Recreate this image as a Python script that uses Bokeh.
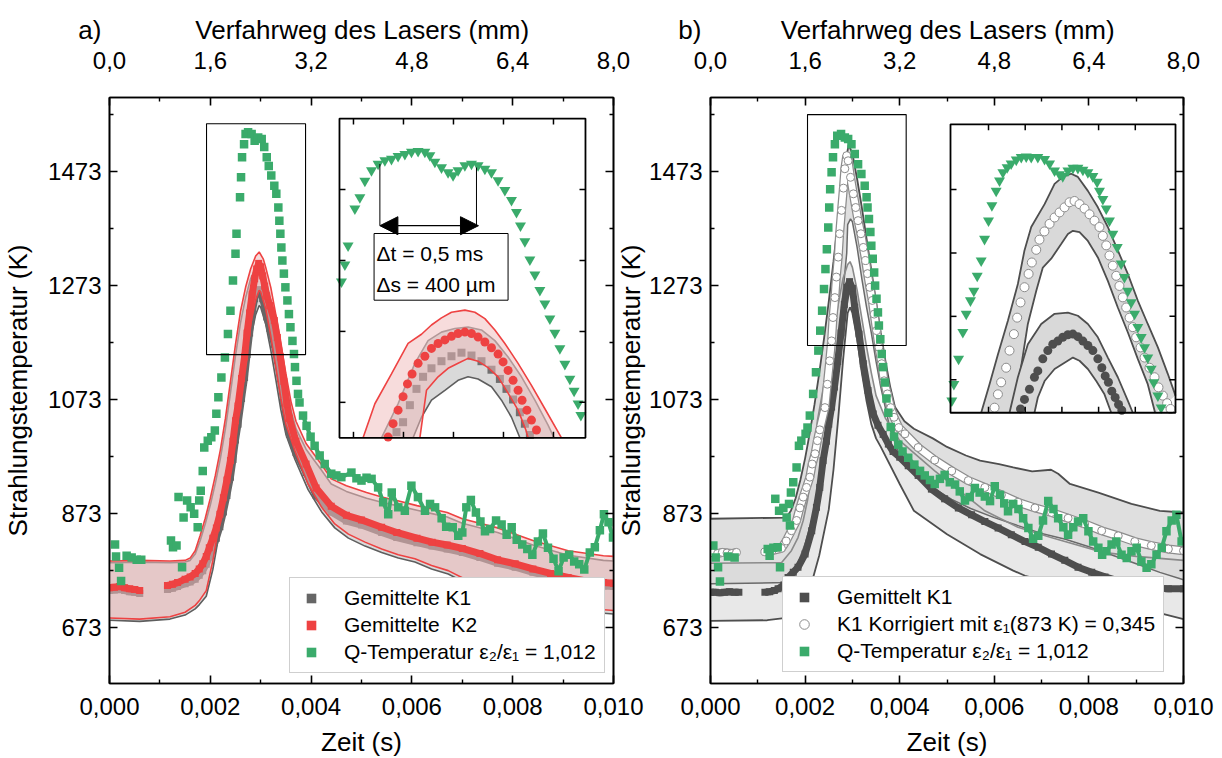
import numpy as np
from bokeh.plotting import figure
from bokeh.layouts import row
from bokeh.models import (Range1d, LinearAxis, FixedTicker, CustomJSTickFormatter,
                          Legend, LegendItem, Label, Arrow, NormalHead)
from bokeh.embed import file_html
from bokeh.resources import INLINE

nan = float("nan")

# ---------------- axes / ticks ----------------
X_RANGE = (0.0, 0.010)
Y_RANGE = (575.0, 1603.0)
MM_RANGE = (0.0, 8.0)
TIME_TICKS = [0.0, 0.002, 0.004, 0.006, 0.008, 0.010]
TIME_MINOR = [0.001, 0.003, 0.005, 0.007, 0.009]
MM_TICKS = [0.0, 1.6, 3.2, 4.8, 6.4, 8.0]
MM_MINOR = [0.8, 2.4, 4.0, 5.6, 7.2]
TEMP_TICKS = [673, 873, 1073, 1273, 1473]
TEMP_MINOR = [773, 973, 1173, 1373, 1573]

# ---------------- panel a: main data (time s, temperature K) ----------------
A_K2 = [(0.0, 743), (0.0001, 744), (0.0002, 745), (0.0003, 743), (0.0004, 741), (0.0005, 740), (0.0006, 738), (nan, nan),
        (0.00115, 747), (0.00125, 749), (0.00135, 752), (0.0015, 758), (0.0016, 762), (0.0017, 768), (0.00178, 776),
        (0.00185, 785), (0.00192, 798), (0.00198, 813), (0.00205, 830), (0.00212, 848), (0.00219, 872), (0.00226, 901),
        (0.00233, 932), (0.0024, 966), (0.00245, 1000), (0.0025, 1036), (0.00255, 1062), (0.00262, 1110), (0.00268, 1148),
        (0.00273, 1190), (0.00278, 1225), (0.00283, 1258), (0.00288, 1285), (0.00292, 1302), (0.00296, 1312), (0.0030, 1306),
        (0.00304, 1290), (0.00308, 1272), (0.00312, 1255), (0.00318, 1238), (0.00327, 1212), (0.00333, 1182), (0.00339, 1148),
        (0.00346, 1105), (0.00352, 1066), (0.00357, 1040), (0.0037, 1000), (0.0039, 960), (0.0041, 918), (0.0044, 886),
        (0.0047, 870), (0.0050, 862), (0.0054, 849), (0.0057, 840), (0.0061, 830), (0.0064, 823), (0.0067, 818), (0.0070, 812),
        (0.00735, 803), (0.0077, 792), (0.00805, 785), (0.0084, 776), (0.00875, 768), (0.0091, 761), (0.00945, 755),
        (0.0098, 752), (0.0100, 751)]
A_K1 = [(0.0, 738), (0.0001, 739), (0.0002, 740), (0.0003, 738), (0.0004, 736), (0.0005, 735), (0.0006, 733), (nan, nan),
        (0.00115, 740), (0.00125, 742), (0.00135, 745), (0.0015, 750), (0.0016, 753), (0.0017, 758), (0.00178, 765),
        (0.00185, 773), (0.00192, 784), (0.00198, 797), (0.00205, 812), (0.00212, 830), (0.00219, 850), (0.00226, 876),
        (0.00233, 905), (0.0024, 937), (0.00245, 968), (0.0025, 1002), (0.00255, 1030), (0.00262, 1075), (0.00268, 1112),
        (0.00273, 1152), (0.00278, 1190), (0.00283, 1225), (0.00288, 1250), (0.00292, 1262), (0.00296, 1266), (0.0030, 1262),
        (0.00304, 1250), (0.00308, 1235), (0.00312, 1218), (0.00318, 1198), (0.00327, 1170), (0.00333, 1142), (0.00339, 1110),
        (0.00346, 1070), (0.00352, 1035), (0.00357, 1012), (0.0037, 980), (0.0039, 945), (0.0041, 905), (0.0044, 876),
        (0.0047, 860), (0.0050, 853), (0.0054, 840), (0.0057, 831), (0.0061, 822), (0.0064, 816), (0.0067, 811), (0.0070, 805),
        (0.00735, 796), (0.0077, 786), (0.00805, 779), (0.0084, 770), (0.00875, 762), (0.0091, 755), (0.00945, 749),
        (0.0098, 746), (0.0100, 745)]
A_K2_UP = [(0.0, 790), (0.0006, 791), (0.0012, 790), (0.0015, 791), (0.0016, 795), (0.0017, 808), (0.0018, 835), (0.0019, 865),
           (0.0020, 900), (0.0021, 940), (0.0022, 985), (0.0023, 1040), (0.0024, 1105), (0.0025, 1170), (0.0026, 1228),
           (0.0027, 1270), (0.0028, 1302), (0.0029, 1325), (0.00297, 1332), (0.00305, 1320), (0.0031, 1305), (0.0032, 1270),
           (0.0033, 1222), (0.0034, 1170), (0.0035, 1118), (0.0036, 1070), (0.0037, 1035), (0.0039, 996), (0.0042, 960),
           (0.0044, 934), (0.0047, 922), (0.0051, 910), (0.0054, 902), (0.0057, 896), (0.0061, 887), (0.0064, 881),
           (0.0067, 875), (0.0070, 864), (0.0077, 848), (0.0084, 826), (0.0091, 808), (0.0098, 799), (0.0100, 798)]
A_K1_UP = [(0.0, 787), (0.0006, 788), (0.0012, 787), (0.0015, 788), (0.0016, 791), (0.0017, 802), (0.0018, 826), (0.0019, 855),
           (0.0020, 888), (0.0021, 926), (0.0022, 970), (0.0023, 1022), (0.0024, 1085), (0.0025, 1150), (0.0026, 1208),
           (0.0027, 1252), (0.0028, 1285), (0.0029, 1305), (0.00297, 1310), (0.00305, 1298), (0.0031, 1282), (0.0032, 1248),
           (0.0033, 1202), (0.0034, 1150), (0.0035, 1100), (0.0036, 1055), (0.0037, 1022), (0.0039, 986), (0.0042, 950),
           (0.0044, 925), (0.0047, 912), (0.0051, 900), (0.0054, 893), (0.0057, 887), (0.0061, 879), (0.0064, 873),
           (0.0067, 867), (0.0070, 856), (0.0077, 840), (0.0084, 818), (0.0091, 800), (0.0098, 791), (0.0100, 790)]
A_K2_LO = [(0.0, 690), (0.0006, 688), (0.0012, 692), (0.0015, 700), (0.0017, 712), (0.00178, 720), (0.00192, 738),
           (0.00205, 790), (0.00219, 861), (0.00233, 925), (0.00247, 1000), (0.0026, 1085), (0.0027, 1145), (0.0028, 1205),
           (0.0029, 1248), (0.00297, 1265), (0.0030, 1262), (0.0031, 1232), (0.0032, 1185), (0.0033, 1130), (0.0034, 1075),
           (0.0035, 1030), (0.00368, 983), (0.00394, 925), (0.00421, 884), (0.00447, 855), (0.00474, 837), (0.00507, 823),
           (0.0054, 811), (0.00573, 801), (0.00606, 794), (0.00639, 782), (0.00672, 773), (0.00701, 760), (0.00735, 745),
           (0.0080, 722), (0.0090, 710), (0.0100, 703)]
A_K1_LO = [(0.0, 686), (0.0006, 684), (0.0012, 688), (0.0015, 695), (0.0017, 706), (0.00178, 713), (0.00192, 728),
           (0.00205, 775), (0.00219, 845), (0.00233, 908), (0.00247, 980), (0.0026, 1060), (0.0027, 1120), (0.0028, 1180),
           (0.0029, 1222), (0.00297, 1238), (0.0030, 1235), (0.0031, 1205), (0.0032, 1160), (0.0033, 1108), (0.0034, 1055),
           (0.0035, 1012), (0.00368, 968), (0.00394, 915), (0.00421, 876), (0.00447, 848), (0.00474, 830), (0.00507, 816),
           (0.0054, 805), (0.00573, 795), (0.00606, 788), (0.00639, 776), (0.00672, 767), (0.00701, 754), (0.00735, 739),
           (0.0080, 716), (0.0090, 704), (0.0100, 697)]
A_Q = [(0.00011, 819), (0.00013, 798), (0.00019, 778), (0.00023, 755), (0.00034, 799), (0.00044, 796), (0.00054, 792),
       (0.00063, 792), (0.00122, 826), (0.00126, 814), (0.00133, 817), (0.00137, 902), (0.00144, 779), (0.00147, 866),
       (0.00154, 896), (0.00161, 884), (0.00168, 873), (0.00175, 849), (0.00178, 896), (0.00181, 913), (0.00185, 948),
       (0.00188, 989), (0.00195, 1001), (0.00202, 1007), (0.00209, 1019), (0.00212, 1048),
       (0.00216, 1077), (0.00222, 1112), (0.00229, 1147), (0.00235, 1188), (0.0024, 1229), (0.00245, 1282), (0.0025, 1329),
       (0.00252, 1364), (0.00259, 1428), (0.00261, 1463), (0.00263, 1498), (0.00267, 1521), (0.0027, 1539), (0.00275, 1542),
       (0.00282, 1539), (0.00288, 1527), (0.00295, 1533), (0.00302, 1530), (0.00307, 1516), (0.00312, 1498), (0.00316, 1483),
       (0.00321, 1466), (0.00327, 1448), (0.00331, 1434), (0.00335, 1410), (0.00337, 1387), (0.00339, 1364), (0.00341, 1340),
       (0.00343, 1317), (0.00346, 1294), (0.00349, 1270), (0.00353, 1247), (0.00356, 1223), (0.00359, 1200), (0.00363, 1176),
       (0.00366, 1153), (0.00368, 1130), (0.00371, 1106), (0.00374, 1083), (0.00377, 1068), (0.00384, 1045), (0.00391, 1027),
       (0.00399, 1008), (0.00407, 992), (0.00417, 975), (0.00427, 960), (0.0044, 943), (0.0045, 940), (0.0046, 937),
       (0.0048, 945), (0.0049, 935), (0.0050, 931), (0.0051, 936), (0.0052, 934), (0.00533, 919), (0.00543, 893),
       (0.00553, 872), (0.0056, 910), (0.00573, 884), (0.00586, 878), (0.00599, 922), (0.00612, 902), (0.00626, 878),
       (0.00636, 890), (0.00646, 884), (0.00659, 865), (0.00668, 850), (0.00681, 849), (0.00692, 834), (0.0070, 840),
       (0.00708, 884), (0.00717, 897), (0.00727, 875), (0.00736, 859), (0.00745, 842), (0.00755, 846), (0.00767, 861),
       (0.00778, 854), (0.00788, 836), (0.00798, 849), (0.00808, 827), (0.00819, 819), (0.00829, 811), (0.00839, 801),
       (0.0085, 824), (0.0086, 838), (0.0087, 813), (0.00881, 794), (0.00891, 772), (0.00901, 796), (0.00912, 801),
       (0.00922, 789), (0.00932, 784), (0.00942, 775), (0.00953, 805), (0.00963, 814), (0.00973, 844), (0.00981, 872),
       (0.0099, 858), (0.00999, 831)]

# ---------------- panel a: inset data ----------------
IA_Q = [(0.00234, 1370), (0.002357, 1394), (0.002373, 1421), (0.002407, 1473), (0.002432, 1489), (0.002457, 1512),
        (0.00249, 1527), (0.002523, 1536), (0.002557, 1541), (0.00259, 1543), (0.002623, 1547), (0.002657, 1550),
        (0.00269, 1553), (0.002723, 1554), (0.002757, 1553), (0.002782, 1548), (0.002807, 1539), (0.00284, 1531),
        (0.002873, 1524), (0.002898, 1520), (0.002923, 1527), (0.002957, 1534), (0.00299, 1536), (0.003023, 1534),
        (0.003057, 1529), (0.00309, 1524), (0.003123, 1513), (0.003157, 1499), (0.00319, 1485), (0.003215, 1468),
        (0.003235, 1449), (0.003257, 1427), (0.003282, 1401), (0.003307, 1380), (0.003332, 1358), (0.003357, 1339),
        (0.003382, 1318), (0.003407, 1298), (0.003432, 1276), (0.003457, 1254), (0.003482, 1233), (0.003503, 1216),
        (0.003523, 1198), (0.003537, 1182)]
IA_K2 = [(0.002573, 1151), (0.002598, 1170), (0.002623, 1189), (0.002648, 1208), (0.00267, 1226), (0.002693, 1240),
         (0.002723, 1255), (0.002757, 1265), (0.00279, 1276), (0.002823, 1283), (0.002857, 1288), (0.00289, 1293),
         (0.002923, 1297), (0.002957, 1299), (0.00299, 1297), (0.003023, 1292), (0.003057, 1285), (0.00309, 1277),
         (0.003123, 1268), (0.003148, 1257), (0.003173, 1245), (0.003198, 1231), (0.003223, 1217), (0.003243, 1203),
         (0.003267, 1189), (0.00329, 1175), (0.003315, 1161)]
IA_K1 = [(0.002615, 1158), (0.002648, 1172), (0.002682, 1196), (0.002715, 1219), (0.002748, 1236), (0.00279, 1248),
         (0.00284, 1258), (0.00289, 1265), (0.00294, 1270), (0.00299, 1266), (0.00304, 1258), (0.00309, 1246),
         (0.003132, 1233), (0.003165, 1219), (0.003198, 1204), (0.003232, 1186), (0.003257, 1170), (0.003282, 1154)]
IA_K2_UP = [(0.002448, 1150), (0.002507, 1198), (0.00259, 1240), (0.002673, 1283), (0.00274, 1296), (0.00279, 1309),
            (0.00284, 1319), (0.00289, 1327), (0.002957, 1330), (0.003007, 1327), (0.003057, 1318), (0.003107, 1302),
            (0.003157, 1283), (0.003223, 1255), (0.00329, 1224), (0.003357, 1191), (0.00344, 1150)]
IA_K2_LO = [(0.002732, 1150), (0.002765, 1217), (0.002823, 1236), (0.002873, 1248), (0.002923, 1255), (0.002973, 1262),
            (0.003023, 1258), (0.003073, 1249), (0.003123, 1236), (0.003173, 1213), (0.003223, 1189), (0.003262, 1161),
            (0.003273, 1150)]
IA_K1_UP = [(0.00254, 1150), (0.002623, 1198), (0.002707, 1255), (0.002773, 1287), (0.00284, 1299), (0.002907, 1304),
            (0.002973, 1306), (0.00304, 1302), (0.003107, 1287), (0.003173, 1264), (0.00324, 1236), (0.003307, 1203),
            (0.003373, 1168), (0.003403, 1150)]
IA_K1_LO = [(0.002698, 1150), (0.00274, 1179), (0.00279, 1203), (0.002857, 1217), (0.002923, 1231), (0.002973, 1236),
            (0.003023, 1233), (0.00309, 1222), (0.00314, 1203), (0.00319, 1179), (0.003232, 1150)]

# ---------------- panel b: main data ----------------
B_K1 = [(0.0, 735), (0.0001, 735), (0.0002, 734), (0.0003, 735), (0.0004, 736), (0.0005, 735), (0.0006, 735), (nan, nan),
        (0.00115, 735), (0.00125, 736), (0.00135, 738), (0.00143, 741), (0.00155, 748), (0.00164, 761), (0.00175, 770),
        (0.00185, 779), (0.0020, 802), (0.00214, 843), (0.00224, 884), (0.00231, 919), (0.00238, 966), (0.00245, 1000),
        (0.0025, 1030), (0.00256, 1060), (0.00262, 1095), (0.00269, 1140), (0.00276, 1190), (0.00283, 1240), (0.00289, 1270),
        (0.00294, 1280), (0.0030, 1268), (0.00305, 1235), (0.00314, 1188), (0.00323, 1136), (0.00333, 1089), (0.00344, 1048),
        (0.00354, 1028), (0.00365, 1012), (0.00376, 995), (0.00386, 982), (0.0040, 972), (0.00418, 957), (0.00439, 940),
        (0.00467, 916), (0.00495, 899), (0.00524, 883), (0.00552, 871), (0.0058, 859), (0.00608, 848), (0.00636, 836),
        (0.00665, 824), (0.00693, 814), (0.00721, 802), (0.00749, 791), (0.00777, 779), (0.00806, 770), (0.00834, 762),
        (0.00862, 755), (0.00897, 750), (0.00932, 744), (0.00968, 741), (0.0100, 741)]
B_CORR = [(0.00005, 804), (0.00015, 803), (0.00025, 805), (0.00035, 804), (0.00045, 803), (0.00055, 805), (nan, nan),
          (0.00115, 806), (0.0013, 808), (0.0015, 812), (0.0016, 825), (0.00171, 843), (0.00182, 861), (0.00189, 883),
          (0.00196, 902), (0.00203, 919), (0.0021, 937), (0.00215, 960), (0.00221, 978), (0.00226, 1001), (0.00231, 1020),
          (0.00242, 1059), (0.00247, 1100), (0.00252, 1141), (0.00256, 1176), (0.00259, 1217), (0.00263, 1252),
          (0.00266, 1288), (0.0027, 1323), (0.00273, 1364), (0.00277, 1405), (0.00281, 1444), (0.00284, 1478),
          (0.00288, 1501), (0.00291, 1492), (0.00296, 1463), (0.00302, 1434), (0.00307, 1410), (0.00312, 1387),
          (0.00318, 1364), (0.00323, 1340), (0.00328, 1317), (0.00332, 1294), (0.00337, 1270), (0.00342, 1247),
          (0.00346, 1223), (0.00351, 1194), (0.00356, 1165), (0.00362, 1136), (0.00367, 1106), (0.00374, 1083),
          (0.00381, 1059), (0.00388, 1042), (0.00398, 1024), (0.00411, 1013), (0.00439, 989), (0.00474, 967),
          (0.0051, 948), (0.00545, 931), (0.0058, 919), (0.00615, 906), (0.0065, 893), (0.00686, 883), (0.00721, 875),
          (0.00756, 865), (0.00791, 855), (0.00827, 843), (0.00862, 834), (0.00897, 824), (0.00932, 817), (0.00968, 811),
          (0.0100, 808)]
B_CORR_UP = [(0.0, 864), (0.0016, 866), (0.0017, 878), (0.0018, 900), (0.0019, 932), (0.0020, 970), (0.0021, 1015),
             (0.0022, 1065), (0.0023, 1120), (0.0024, 1180), (0.0025, 1245), (0.0026, 1315), (0.0027, 1390), (0.0028, 1465),
             (0.00292, 1520), (0.0030, 1505), (0.0031, 1460), (0.0032, 1410), (0.0033, 1355), (0.0034, 1300), (0.0035, 1245),
             (0.0036, 1190), (0.0037, 1140), (0.0038, 1095), (0.0039, 1060), (0.0041, 1035), (0.0043, 1022), (0.0047, 1005),
             (0.0050, 990), (0.0054, 975), (0.0057, 966), (0.0061, 960), (0.0064, 954), (0.0068, 947), (0.0072, 950),
             (0.00735, 943), (0.0076, 925), (0.0082, 910), (0.0089, 890), (0.0095, 878), (0.0100, 875)]
B_CORR_LO = [(0.0, 750), (0.0016, 752), (0.0018, 775), (0.0020, 820), (0.0022, 880), (0.0024, 960), (0.0025, 1020),
             (0.0026, 1090), (0.0027, 1170), (0.0028, 1260), (0.00288, 1330), (0.0029, 1380), (0.00296, 1390), (0.0030, 1385),
             (0.0031, 1340), (0.0032, 1285), (0.0033, 1235), (0.0034, 1190), (0.0035, 1140), (0.0036, 1095), (0.0038, 1020),
             (0.0040, 975), (0.0043, 945), (0.0047, 918), (0.0051, 898), (0.0055, 882), (0.0060, 866), (0.0065, 852),
             (0.0070, 838), (0.0075, 828), (0.0080, 815), (0.0085, 800), (0.0090, 785), (0.0095, 770), (0.0100, 757)]
B_K1_UP = [(0.0, 786), (0.0015, 787), (0.00171, 808), (0.00185, 831), (0.00196, 861), (0.00205, 896), (0.00214, 943),
           (0.00221, 989), (0.00226, 1036), (0.0024, 1100), (0.0025, 1140), (0.0026, 1190), (0.0027, 1240), (0.0028, 1285),
           (0.0029, 1310), (0.00295, 1315), (0.0030, 1305), (0.0031, 1265), (0.0032, 1215), (0.0033, 1165), (0.0034, 1120),
           (0.0035, 1080), (0.0037, 1040), (0.0040, 1001), (0.00474, 948), (0.0058, 878), (0.0065, 849), (0.0072, 831),
           (0.0083, 805), (0.0090, 798), (0.0100, 791)]
B_K1_LO = [(0.0, 685), (0.0012, 686), (0.0016, 690), (0.0019, 705), (0.0021, 740), (0.0023, 800), (0.0025, 880),
           (0.0026, 950), (0.0027, 1040), (0.0028, 1140), (0.0029, 1225), (0.00295, 1235), (0.0030, 1225), (0.0031, 1180),
           (0.0032, 1120), (0.0033, 1070), (0.0034, 1030), (0.0035, 1005), (0.0036, 990), (0.0040, 925), (0.0043, 878),
           (0.0050, 837), (0.0057, 802), (0.0064, 773), (0.00665, 764), (0.0074, 748), (0.0083, 728), (0.0090, 709),
           (0.0100, 688)]
B_Q = [(0.00006, 817), (0.00011, 796), (0.00016, 779), (0.0002, 754), (0.00037, 798), (0.00051, 796),
       (0.00121, 811), (0.00125, 799), (0.00133, 813), (0.00137, 899), (0.00142, 814), (0.00145, 878), (0.00147, 779),
       (0.00154, 883), (0.00161, 866), (0.00166, 890), (0.00168, 852), (0.0017, 910), (0.00175, 928), (0.00182, 954),
       (0.00187, 992), (0.00192, 1001), (0.00201, 1013), (0.00205, 1024), (0.0021, 1045), (0.00217, 1083), (0.00223, 1121),
       (0.00228, 1159), (0.00232, 1194), (0.00236, 1229), (0.0024, 1267), (0.00243, 1302), (0.00246, 1337), (0.00249, 1375),
       (0.00251, 1410), (0.00253, 1442), (0.00256, 1472), (0.00259, 1498), (0.00263, 1521), (0.00268, 1536), (0.00276, 1539),
       (0.00284, 1533), (0.00291, 1530), (0.00298, 1521), (0.00305, 1504), (0.00312, 1486), (0.00319, 1469), (0.00326, 1448),
       (0.0033, 1428), (0.00332, 1410), (0.00335, 1390), (0.00338, 1367), (0.0034, 1343), (0.00343, 1320), (0.00346, 1296),
       (0.00348, 1273), (0.00351, 1250), (0.00354, 1226), (0.00356, 1203), (0.00359, 1179), (0.00362, 1153), (0.00365, 1130),
       (0.00369, 1103), (0.00372, 1075), (0.00376, 1050), (0.00381, 1025), (0.00388, 1008), (0.00397, 994), (0.00406, 982),
       (0.00418, 971), (0.00431, 959), (0.00443, 948), (0.00453, 940), (0.00464, 932), (0.00474, 925), (0.00485, 934),
       (0.00495, 941), (0.00506, 928), (0.00517, 924), (0.00527, 912), (0.00538, 896), (0.00548, 902), (0.00559, 918),
       (0.00569, 910), (0.0058, 903), (0.00591, 895), (0.00601, 921), (0.00612, 906), (0.00621, 891), (0.00629, 877),
       (0.0064, 890), (0.00651, 881), (0.00661, 865), (0.00672, 848), (0.00682, 829), (0.00693, 834), (0.00703, 861),
       (0.00714, 895), (0.00725, 881), (0.00735, 865), (0.00746, 849), (0.00756, 836), (0.00767, 849), (0.00777, 859),
       (0.00788, 865), (0.00799, 842), (0.00809, 824), (0.0082, 813), (0.00828, 801), (0.00837, 807), (0.00848, 819),
       (0.00858, 824), (0.00869, 801), (0.0088, 795), (0.0089, 807), (0.00901, 813), (0.00911, 789), (0.00922, 778),
       (0.00932, 784), (0.00943, 801), (0.00954, 813), (0.00964, 842), (0.00975, 861), (0.00985, 871), (0.00996, 824)]

# ---------------- panel b: inset data ----------------
IB_Q = [(0.00215, 1167), (0.002164, 1193), (0.002196, 1233), (0.002225, 1275), (0.002248, 1304), (0.002277, 1325),
        (0.0023, 1340), (0.002323, 1364), (0.00235, 1388), (0.002373, 1422), (0.0024, 1451), (0.002423, 1475),
        (0.002452, 1498), (0.002475, 1514), (0.002498, 1527), (0.002527, 1535), (0.002554, 1541), (0.002589, 1547),
        (0.002623, 1551), (0.002657, 1552), (0.002691, 1551), (0.002736, 1551), (0.002782, 1548), (0.002816, 1541),
        (0.00285, 1530), (0.002884, 1524), (0.002906, 1521), (0.002941, 1530), (0.002975, 1534), (0.003009, 1534),
        (0.003043, 1531), (0.003077, 1527), (0.003111, 1521), (0.00314, 1512), (0.003156, 1498), (0.003179, 1485),
        (0.003202, 1470), (0.003224, 1451), (0.003247, 1430), (0.003277, 1409), (0.003304, 1383), (0.003326, 1362),
        (0.003349, 1340), (0.003372, 1322), (0.003395, 1304), (0.003417, 1283), (0.00344, 1267), (0.003463, 1251),
        (0.003485, 1235), (0.003508, 1217), (0.003526, 1196), (0.003554, 1175), (0.003576, 1156)]
IB_CORR = [(0.002441, 1156), (0.002464, 1177), (0.002486, 1196), (0.00252, 1219), (0.002543, 1246), (0.002573, 1272),
           (0.002595, 1298), (0.002618, 1322), (0.002645, 1346), (0.002673, 1367), (0.002695, 1385), (0.002725, 1405),
           (0.002747, 1421), (0.002781, 1434), (0.002816, 1446), (0.00285, 1456), (0.002884, 1464), (0.002918, 1472),
           (0.002952, 1480), (0.002986, 1482), (0.00302, 1477), (0.003054, 1470), (0.003088, 1461), (0.003122, 1451),
           (0.003156, 1441), (0.003179, 1427), (0.003202, 1412), (0.003224, 1396), (0.003247, 1380), (0.00327, 1364),
           (0.003292, 1348), (0.003315, 1330), (0.003338, 1314), (0.003361, 1298), (0.003383, 1283), (0.003406, 1267),
           (0.003436, 1251), (0.003463, 1235), (0.003497, 1219), (0.003531, 1204), (0.003558, 1188), (0.003588, 1175),
           (0.003617, 1163), (0.00364, 1154)]
IB_CORR_UP = [(0.00235, 1148), (0.002407, 1193), (0.002464, 1240), (0.002532, 1293), (0.0026, 1351), (0.002645, 1404),
              (0.002691, 1441), (0.002782, 1477), (0.00285, 1509), (0.002906, 1520), (0.002963, 1525), (0.003009, 1520),
              (0.003077, 1498), (0.003145, 1472), (0.003213, 1441), (0.003281, 1404), (0.003349, 1367), (0.003417, 1325),
              (0.003485, 1288), (0.003554, 1251), (0.003622, 1209), (0.003674, 1175)]
IB_CORR_LO = [(0.002566, 1148), (0.002611, 1204), (0.002668, 1288), (0.002725, 1340), (0.00277, 1377), (0.002827, 1391),
              (0.002895, 1414), (0.002941, 1430), (0.002975, 1435), (0.00302, 1433), (0.003077, 1419), (0.003145, 1393),
              (0.003213, 1356), (0.003281, 1314), (0.003349, 1275), (0.003417, 1233), (0.003485, 1193), (0.003535, 1148)]
IB_K1 = [(0.002618, 1154), (0.002645, 1169), (0.002679, 1185), (0.002713, 1204), (0.002736, 1214), (0.00277, 1233),
         (0.002804, 1246), (0.002838, 1256), (0.002872, 1261), (0.002906, 1267), (0.002941, 1271), (0.002975, 1272),
         (0.003009, 1268), (0.003043, 1261), (0.003077, 1254), (0.003111, 1246), (0.003145, 1233), (0.003172, 1219),
         (0.003195, 1206), (0.003217, 1196), (0.00324, 1182), (0.003263, 1172), (0.003286, 1161), (0.003308, 1152)]
IB_K1_UP = [(0.002543, 1148), (0.0026, 1204), (0.002668, 1256), (0.002759, 1288), (0.00285, 1304), (0.002941, 1306),
            (0.003009, 1301), (0.003077, 1288), (0.003145, 1267), (0.003213, 1235), (0.003281, 1204), (0.003349, 1167),
            (0.003383, 1148)]
IB_K1_LO = [(0.002713, 1148), (0.002736, 1172), (0.002782, 1198), (0.00285, 1217), (0.002918, 1227), (0.002975, 1235),
            (0.00302, 1230), (0.003077, 1217), (0.003134, 1198), (0.00319, 1177), (0.003236, 1148)]

# ---------------- inset windows / placement ----------------
# box = inset frame in main-axis coordinates; win = data window shown inside it
INSET_A_BOX = (0.004563, 0.009444, 1006, 1566)
INSET_A_WIN = (0.00233, 0.00356, 1150, 1600)
INSET_B_BOX = (0.005074, 0.009831, 1050, 1556)
INSET_B_WIN = (0.002141, 0.003674, 1148, 1603)
INSET_X_TICKS = [0.0024, 0.00265, 0.0029, 0.00315, 0.0034]
INSET_Y_TICKS = [1200, 1300, 1400, 1500]
ZOOM_A = (0.001925, 0.00389, 1152, 1557)
ZOOM_B = (0.002051, 0.004137, 1168, 1573)

# ---------------- style ----------------
FONT = "Liberation Sans"
TICK_FS = "24px"
TITLE_FS = "26px"
LEG_FS = "21px"
GREEN = "#3aab6b"
RED = "#ee4242"
PINK = "#efb9b9"
GFILL = "#d9d9d9"
DARK = "#4e4e4e"
MID = "#5e5e5e"
FRAME_H = 586
NB = "\u00a0"
TOP_TITLE = "Verfahrweg des Lasers (mm)"


def split(pairs):
    xs = [a for a, b in pairs]
    ys = [b for a, b in pairs]
    return xs, ys


def style_axis(ax, ticks, minor, code, title=None, label_standoff=8, title_standoff=6):
    ax.ticker = FixedTicker(ticks=ticks, minor_ticks=minor)
    ax.formatter = CustomJSTickFormatter(code=code)
    ax.major_tick_in = 8
    ax.major_tick_out = 0
    ax.minor_tick_in = 4
    ax.minor_tick_out = 0
    ax.axis_line_width = 1.6
    ax.major_tick_line_width = 1.6
    ax.minor_tick_line_width = 1.4
    ax.axis_line_color = "black"
    ax.major_tick_line_color = "black"
    ax.minor_tick_line_color = "black"
    ax.major_label_text_font = FONT
    ax.major_label_text_font_size = TICK_FS
    ax.major_label_text_color = "black"
    ax.major_label_standoff = label_standoff
    if title:
        ax.axis_label = title
        ax.axis_label_text_font = FONT
        ax.axis_label_text_font_size = TITLE_FS
        ax.axis_label_text_font_style = "normal"
        ax.axis_label_text_color = "black"
        ax.axis_label_standoff = title_standoff


def inset_range(box, win):
    bx0, bx1, by0, by1 = box
    wx0, wx1, wy0, wy1 = win
    kx = (wx1 - wx0) / (bx1 - bx0)
    ky = (wy1 - wy0) / (by1 - by0)
    xr = Range1d(wx0 + (X_RANGE[0] - bx0) * kx, wx0 + (X_RANGE[1] - bx0) * kx)
    yr = Range1d(wy0 + (Y_RANGE[0] - by0) * ky, wy0 + (Y_RANGE[1] - by0) * ky)
    return xr, yr


def make_panel(frame_w, b_left, b_right, box, win, ytitle_standoff, top_title):
    xr, yr = inset_range(box, win)
    p = figure(frame_width=frame_w, frame_height=FRAME_H,
               x_range=Range1d(*X_RANGE), y_range=Range1d(*Y_RANGE),
               output_backend="svg", toolbar_location=None,
               min_border_left=b_left, min_border_right=b_right,
               min_border_top=97, min_border_bottom=74)
    p.extra_x_ranges = {"mm": Range1d(*MM_RANGE), "ix": xr}
    p.extra_y_ranges = {"iy": yr}
    p.xgrid.visible = False
    p.ygrid.visible = False
    p.outline_line_color = "black"
    p.outline_line_width = 1.6
    p.border_fill_color = None
    p.background_fill_color = "white"
    style_axis(p.xaxis[0], TIME_TICKS, TIME_MINOR,
               "return tick.toFixed(3).replace('.', ',');", "Zeit (s)", 14, 9)
    style_axis(p.yaxis[0], TEMP_TICKS, TEMP_MINOR,
               "return tick.toFixed(0);", "Strahlungstemperatur (K)", 8, ytitle_standoff)
    top = LinearAxis(x_range_name="mm")
    style_axis(top, MM_TICKS, MM_MINOR,
               "return tick.toFixed(1).replace('.', ',');", top_title, 29, 4)
    p.add_layout(top, "above")
    right = LinearAxis()
    style_axis(right, TEMP_TICKS, TEMP_MINOR, "return '';", None, 0, 0)
    p.add_layout(right, "right")
    return p


def band(p, upper, lower, color, alpha, **kw):
    ux, uy = split(upper)
    lx, ly = split(lower)
    return p.patch(ux + lx[::-1], uy + ly[::-1], fill_color=color, fill_alpha=alpha, line_color=None, **kw)


def line(p, pairs, color, width, **kw):
    x, y = split(pairs)
    return p.line(x, y, line_color=color, line_width=width, **kw)


def inset_frame(p, win):
    wx0, wx1, wy0, wy1 = win
    p.quad(left=[wx0], right=[wx1], bottom=[wy0], top=[wy1], fill_color="white",
           line_color=None, x_range_name="ix", y_range_name="iy")


def inset_border(p, win, box, frame_w):
    wx0, wx1, wy0, wy1 = win
    bx0, bx1, by0, by1 = box
    box_w_px = (bx1 - bx0) / (X_RANGE[1] - X_RANGE[0]) * frame_w
    box_h_px = (by1 - by0) / (Y_RANGE[1] - Y_RANGE[0]) * FRAME_H
    dx = 6 * (wx1 - wx0) / box_w_px
    dy = 6 * (wy1 - wy0) / box_h_px
    x0s, y0s, x1s, y1s = [], [], [], []
    for t in INSET_X_TICKS:
        x0s += [t, t]; x1s += [t, t]
        y0s += [wy1, wy0]; y1s += [wy1 - dy, wy0 + dy]
    for v in INSET_Y_TICKS:
        x0s += [wx0, wx1]; x1s += [wx0 + dx, wx1 - dx]
        y0s += [v, v]; y1s += [v, v]
    p.segment(x0s, y0s, x1s, y1s, line_color="black", line_width=1.5, x_range_name="ix", y_range_name="iy")
    p.quad(left=[wx0], right=[wx1], bottom=[wy0], top=[wy1], fill_color=None,
           line_color="black", line_width=1.8, x_range_name="ix", y_range_name="iy")


def zoom_rect(p, r):
    p.quad(left=[r[0]], right=[r[1]], bottom=[r[2]], top=[r[3]], fill_color=None,
           line_color="black", line_width=1.1)


def legend(p, items, loc):
    lg = Legend(items=[LegendItem(label=t, renderers=[r]) for t, r in items], location=loc)
    lg.label_text_font = FONT
    lg.label_text_font_size = LEG_FS
    lg.label_text_color = "black"
    lg.glyph_height = 24
    lg.glyph_width = 26
    lg.label_height = 24
    lg.spacing = 3
    lg.padding = 8
    lg.margin = 0
    lg.label_standoff = 20
    lg.border_line_color = "#a0a0a0"
    lg.border_line_width = 1
    lg.background_fill_color = "white"
    lg.background_fill_alpha = 1
    p.add_layout(lg)


# panel tag ("a)", "b)") shares the line of the top-axis title; non-breaking
# spaces keep the axis title itself centred above the frame and inside the canvas
TITLE_A = "a)" + NB * 13 + TOP_TITLE + NB * 16
TITLE_B = "b)" + NB * 11 + TOP_TITLE + NB * 14

# =================== panel a ===================
FW_A = 504
pa = make_panel(FW_A, 108, 33, INSET_A_BOX, INSET_A_WIN, 12, TITLE_A)

band(pa, A_K1_UP, A_K1_LO, GFILL, 1.0)
line(pa, A_K1_UP, MID, 1.6)
line(pa, A_K1_LO, MID, 1.6)
line(pa, A_K1, "#666666", 7)
x, y = split(A_K1)
r_a_k1 = pa.scatter(x, y, marker="square", size=7, fill_color="#666666", line_color=None)
band(pa, A_K2_UP, A_K2_LO, PINK, 0.55)
line(pa, A_K2_UP, RED, 1.6)
line(pa, A_K2_LO, RED, 1.6)
line(pa, A_K2, RED, 7)
x, y = split(A_K2)
r_a_k2 = pa.scatter(x, y, marker="square", size=7, fill_color=RED, line_color=None)
x, y = split(A_Q)
tail = [(a, b) for a, b in A_Q if a > 0.0038]
line(pa, tail, GREEN, 4)
r_a_q = pa.scatter(x, y, marker="square", size=8.5, fill_color=GREEN, line_color=None)
zoom_rect(pa, ZOOM_A)

# inset a
inset_frame(pa, INSET_A_WIN)
kw = dict(x_range_name="ix", y_range_name="iy")
band(pa, IA_K1_UP, IA_K1_LO, GFILL, 1.0, **kw)
line(pa, IA_K1_UP, "#777777", 1.6, **kw)
line(pa, IA_K1_LO, MID, 1.6, **kw)
x, y = split(IA_K1)
pa.scatter(x, y, marker="square", size=8, fill_color="#707070", line_color=None, **kw)
band(pa, IA_K2_UP, IA_K2_LO, PINK, 0.5, **kw)
line(pa, IA_K2_UP, RED, 1.6, **kw)
line(pa, IA_K2_LO, RED, 1.6, **kw)
x, y = split(IA_K2)
pa.scatter(x, y, marker="circle", size=9, fill_color=RED, line_color=None, **kw)
x, y = split(IA_Q)
pa.scatter(x, y, marker="inverted_triangle", size=11, fill_color=GREEN, line_color=None, **kw)
# annotation: delta t between the two maxima
pa.segment([0.002532, 0.003015], [1536, 1531], [0.002532, 0.003015], [1449, 1449],
           line_color="black", line_width=1, **kw)
pa.add_layout(Arrow(start=NormalHead(size=18, fill_color="black", line_color="black"),
                    end=NormalHead(size=18, fill_color="black", line_color="black"),
                    x_start=0.002532, y_start=1449, x_end=0.003025, y_end=1449,
                    line_width=1.2, line_color="black", **kw))
pa.quad(left=[0.002503], right=[0.003173], bottom=[1344], top=[1438], fill_color="white",
        line_color="black", line_width=1, **kw)
for txt, yy in (("\u0394t = 0,5 ms", 1410), ("\u0394s = 400 \u00b5m", 1366)):
    pa.add_layout(Label(x=0.002515, y=yy, text=txt, text_font=FONT, text_font_size="21px",
                        text_align="left", text_baseline="middle", text_color="black", **kw))
inset_border(pa, INSET_A_WIN, INSET_A_BOX, FW_A)

legend(pa, [("Gemittelte K1", r_a_k1), ("Gemittelte  K2", r_a_k2),
            ("Q-Temperatur \u03b5\u2082/\u03b5\u2081 = 1,012", r_a_q)], (180, 10))

# =================== panel b ===================
FW_B = 473
pb = make_panel(FW_B, 97, 36, INSET_B_BOX, INSET_B_WIN, 0, TITLE_B)
pb.margin = (0, 0, 0, -33)

band(pb, B_CORR_UP, B_CORR_LO, GFILL, 0.85)
band(pb, B_K1_UP, B_K1_LO, GFILL, 0.6)
line(pb, B_CORR_UP, DARK, 1.8)
line(pb, B_CORR_LO, "#6a6a6a", 1.5)
line(pb, B_K1_UP, "#8a8a8a", 1.6)
line(pb, B_K1_LO, DARK, 1.8)
line(pb, B_K1, DARK, 7)
x, y = split(B_K1)
r_b_k1 = pb.scatter(x, y, marker="square", size=7, fill_color=DARK, line_color=None)
line(pb, B_CORR, "#8c8c8c", 9)
line(pb, B_CORR, "white", 6.5)
x, y = split(B_CORR)
r_b_c = pb.scatter(x, y, marker="circle", size=8, fill_color="white", line_color="#8c8c8c", line_width=1)
x, y = split(B_Q)
tail = [(a, b) for a, b in B_Q if a > 0.0038]
line(pb, tail, GREEN, 4)
r_b_q = pb.scatter(x, y, marker="square", size=8.5, fill_color=GREEN, line_color=None)
zoom_rect(pb, ZOOM_B)

# inset b
inset_frame(pb, INSET_B_WIN)
band(pb, IB_CORR_UP, IB_CORR_LO, GFILL, 1.0, **kw)
line(pb, IB_CORR_UP, DARK, 1.8, **kw)
line(pb, IB_CORR_LO, DARK, 1.8, **kw)
band(pb, IB_K1_UP, IB_K1_LO, GFILL, 1.0, **kw)
line(pb, IB_K1_UP, DARK, 1.8, **kw)
line(pb, IB_K1_LO, DARK, 1.8, **kw)
x, y = split(IB_K1)
pb.scatter(x, y, marker="circle", size=9, fill_color=DARK, line_color=None, **kw)
x, y = split(IB_CORR)
pb.scatter(x, y, marker="circle", size=9, fill_color="white", line_color="#8c8c8c", line_width=1, **kw)
x, y = split(IB_Q)
pb.scatter(x, y, marker="inverted_triangle", size=11, fill_color=GREEN, line_color=None, **kw)
inset_border(pb, INSET_B_WIN, INSET_B_BOX, FW_B)

legend(pb, [("Gemittelt K1", r_b_k1),
            ("K1 Korrigiert mit \u03b5\u2081(873 K) = 0,345", r_b_c),
            ("Q-Temperatur \u03b5\u2082/\u03b5\u2081 = 1,012", r_b_q)], (72, 11))

layout = row(pa, pb)
open("out.html", "w").write(file_html(layout, INLINE))
